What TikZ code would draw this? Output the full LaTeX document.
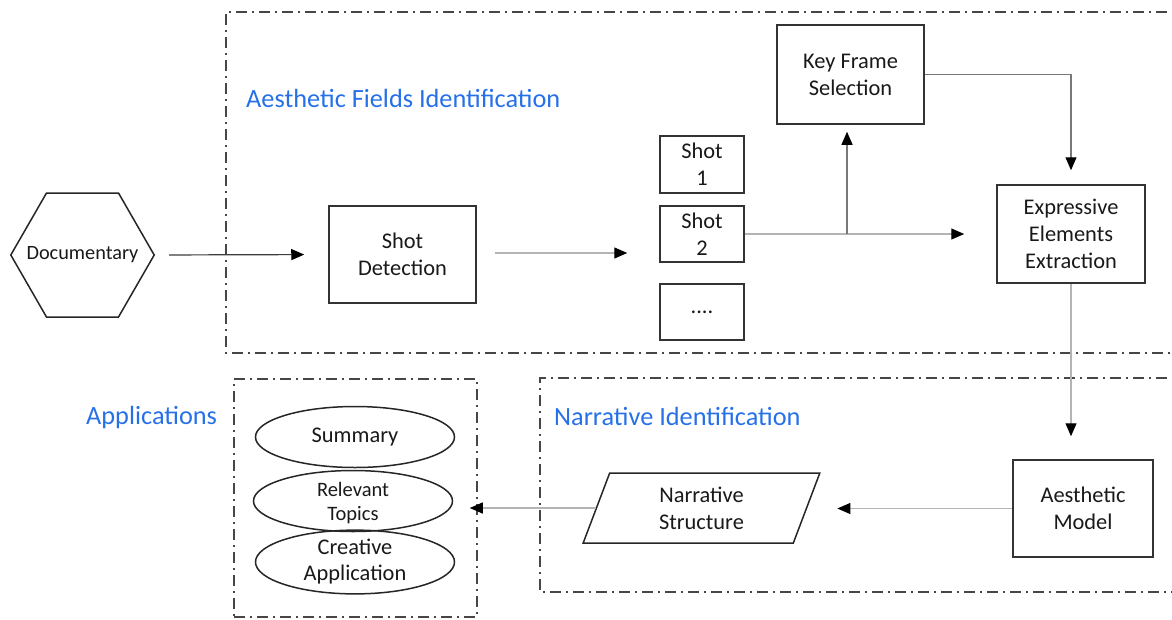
\documentclass[tikz,border=0pt]{standalone}
\usepackage{fontspec}
\setmainfont{Carlito}
\usetikzlibrary{arrows.meta,shapes.geometric,calc}
\definecolor{labelblue}{RGB}{38,112,232}
\definecolor{framegray}{RGB}{70,70,70}
\definecolor{lightline}{RGB}{180,180,180}
\definecolor{midline}{RGB}{120,120,120}
\definecolor{darkline}{RGB}{60,60,60}
\tikzset{
  every node/.style={font=\fontsize{22.4}{27}\selectfont, text=black!90},
  stepbox/.style={draw=black!80, line width=1.5pt, rectangle, inner sep=0pt, align=center},
  ovalbox/.style={draw=black!85, line width=1.5pt, ellipse, inner sep=0pt,
                  minimum width=199pt, minimum height=61pt, align=center},
  groupframe/.style={draw=framegray, line width=1.5pt,
                     dash pattern=on 11pt off 5pt on 2pt off 5pt},
  grouplabel/.style={font=\fontsize{26.3}{30}\selectfont, text=labelblue, anchor=west, inner sep=0pt},
  flow/.style={line width=1.2pt, -{Triangle[length=13pt,width=11pt,color=black]}},
}
\begin{document}
\begin{tikzpicture}[x=1pt,y=-1pt]
\useasboundingbox (0,0) rectangle (1172,619);

% group frames (the two wide ones run off the right edge)
\draw[groupframe] (1190,12) -- (226,12) -- (226,353) -- (1190,353);
\draw[groupframe] (1190,378) -- (540,378) -- (540,592) -- (1190,592);
\node[groupframe, rectangle, minimum width=243pt, minimum height=238pt, inner sep=0pt]
  (apps) at (355.5,498) {};

% group titles
\node[grouplabel] (lblaes) at (246,98) {Aesthetic Fields Identification};
\node[grouplabel] (lblapp) at (86,417) {Applications};
\node[grouplabel] (lblnar) at (554,416) {Narrative Identification};

% source: hexagon drawn round a plain node
\node[minimum width=143pt, minimum height=124pt, inner sep=0pt, font=\fontsize{20.3}{24}\selectfont]
  (doc) at (82.5,255) {Documentary};
\draw[draw=black!85, line width=1.5pt, line join=miter]
  (doc.west) -- ($(doc.center)+(-36,-62)$) -- ($(doc.center)+(36,-62)$)
  -- (doc.east) -- ($(doc.center)+(36,62)$) -- ($(doc.center)+(-36,62)$) -- cycle;

% process nodes
\node[stepbox, minimum width=147pt, minimum height=97pt] (shotdet) at (402.5,254.5) {Shot\\Detection};
\node[stepbox, minimum width=84pt, minimum height=57pt] (shot1) at (702,164.5) {Shot\\1};
\node[stepbox, minimum width=84pt, minimum height=56pt] (shot2) at (702,234) {Shot\\2};
\node[stepbox, minimum width=84pt, minimum height=56pt] (shot3) at (702,312) {....};
\node[stepbox, minimum width=147pt, minimum height=99pt] (keyframe) at (850.5,74.5) {Key Frame\\Selection};
\node[stepbox, minimum width=148pt, minimum height=98pt] (expr) at (1071,234) {Expressive\\Elements\\Extraction};
\node[stepbox, minimum width=140pt, minimum height=97pt] (aesth) at (1083,508.5) {Aesthetic\\Model};
\node[draw=black!85, line width=1.5pt, trapezium, trapezium left angle=74, trapezium right angle=106,
      trapezium stretches=true, minimum width=237pt, minimum height=70pt, inner sep=0pt, align=center]
  (narr) at (701.5,508) {Narrative\\Structure};

% applications
\node[ovalbox] (summary) at (355,437) {Summary};
\node[ovalbox, font=\fontsize{20.5}{24}\selectfont, text depth=0pt] (topics) at (353,501) {Relevant\\Topics};
\node[ovalbox, font=\fontsize{22.4}{26}\selectfont] (creative) at (355,562) {Creative\\Application};

% connectors
\coordinate (fork) at (847,234);
\draw[flow, darkline, shorten <=15pt, shorten >=24pt] (doc.east) -- (shotdet.west);
\draw[flow, lightline, shorten <=18pt, shorten >=32pt] (shotdet.east |- 0,253) -- (shot2.west |- 0,253);
\draw[flow, lightline, shorten >=32pt] (shot2.east) -- (expr.west);
\draw[flow, midline, shorten >=7pt] (fork) -- (fork |- keyframe.south);
\draw[flow, midline, shorten >=14pt] (keyframe.east) -| (expr.north);
\draw[flow, lightline, shorten >=23pt] (expr.south) -- (expr.south |- aesth.north);
\draw[flow, lightline, shorten >=30pt] (aesth.west) -- (aesth.west -| narr.east);
\draw[flow, lightline, shorten >=-8pt] (narr.west) -- (narr.west -| apps.east);
\end{tikzpicture}
\end{document}
